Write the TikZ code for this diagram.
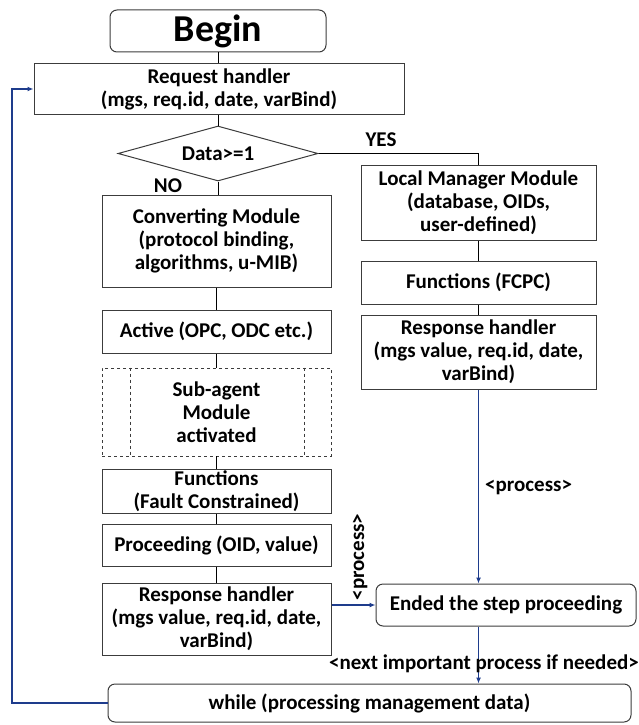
\documentclass[tikz,border=0pt]{standalone}
\usepackage{fontspec}
\setmainfont{Carlito}
\usetikzlibrary{shapes.geometric,arrows.meta,calc}
\definecolor{lnblue}{RGB}{30,60,140}
\definecolor{edge}{RGB}{60,60,60}
\begin{document}
\begin{tikzpicture}[x=1pt,y=-1pt,
  txt/.style={font=\fontsize{21}{23}\selectfont\bfseries},
  box/.style={txt,draw=edge,line width=1pt,align=center,inner sep=1pt,minimum width=229pt},
  rbox/.style={box,rounded corners=7pt},
  conn/.style={line width=1pt,black},
  bconn/.style={line width=1.2pt,lnblue},
  barr/.style={bconn,-{Latex[length=6pt,width=5pt]}},
  lbl/.style={txt,inner sep=0pt}]
\useasboundingbox (0,0) rectangle (638,725);
\node[rbox,minimum width=216pt,minimum height=42pt,font=\fontsize{38}{40}\selectfont\bfseries] (bg) at (218,31) {Begin};
\node[box,minimum width=370pt,minimum height=50pt] (rq) at (219,89) {Request handler\\(mgs, req.id, date, varBind)};
\node[txt,draw=edge,line width=1pt,shape=diamond,aspect=3.6,minimum width=200pt,minimum height=55pt,inner sep=0pt] (dc) at (218,153.5) {Data>=1};
\node[box,minimum height=92pt] (cv) at (216.5,241) {Converting Module\\(protocol binding,\\algorithms, u-MIB)};
\node[box,minimum height=43pt] (ac) at (216.5,331.5) {Active (OPC, ODC etc.)};
\node[box,dashed,draw=edge,line width=0.7pt,minimum height=88pt] (sa) at (216.5,412) {Sub-agent\\Module\\activated};
\node[box,minimum height=44pt] (fn) at (216.5,491) {Functions\\(Fault Constrained)};
\node[box,minimum height=42pt] (pr) at (216.5,545) {Proceeding (OID, value)};
\node[box,minimum height=72pt] (rl) at (216.5,619) {Response handler\\(mgs value, req.id, date,\\varBind)};
\node[box,minimum width=235pt,minimum height=75pt] (lm) at (478.5,202.5) {Local Manager Module\\(database, OIDs,\\user-defined)};
\node[box,minimum width=235pt,minimum height=43pt] (fc) at (478.5,282.5) {Functions (FCPC)};
\node[box,minimum width=235pt,minimum height=74pt] (rr) at (478.5,352) {Response handler\\(mgs value, req.id, date,\\varBind)};
\node[rbox,minimum width=260pt,minimum height=42pt] (en) at (506,605) {Ended the step proceeding};
\node[rbox,minimum width=523pt,minimum height=38pt] (wh) at (369.5,703) {while (processing management data)};
% dashed inner lines of sub-agent
\draw[dashed,draw=edge,line width=0.7pt] ($(sa.north west)+(29,0)$) -- ($(sa.south west)+(29,0)$);
\draw[dashed,draw=edge,line width=0.7pt] ($(sa.north east)+(-27,0)$) -- ($(sa.south east)+(-27,0)$);
% connectors
\draw[conn] (bg.south) -- (bg.south |- rq.north);
\draw[conn] (dc.north |- rq.south) -- (dc.north);
\draw[conn] (dc.south) -- (dc.south |- cv.north);
\draw[conn] (dc.east) -- (dc.east -| lm.north) -- (lm.north);
\draw[conn] (cv.south) -- (ac.north);
\draw[conn] (ac.south) -- (sa.north);
\draw[conn] (sa.south) -- (fn.north);
\draw[conn] (fn.south) -- (pr.north);
\draw[conn] (pr.south) -- (rl.north);
\draw[conn] (lm.south) -- (fc.north);
\draw[conn] (fc.south) -- (rr.north);
\draw[barr] (rr.south) -- (rr.south |- en.north);
\draw[barr] (rl.east |- en.west) -- (en.west);
\draw[barr] (rr.south |- en.south) -- (rr.south |- wh.north);
\coordinate (lp) at (12,703);
\draw[barr] (wh.west) -- (lp) |- (rq.west);
% labels
\node[lbl] (yes) at (381,140) {YES};
\node[lbl] (no) at (168,186) {NO};
\node[lbl,anchor=west] (p1) at (485,487) {<process>};
\node[lbl,rotate=90] (p2) at (360,557) {<process>};
\node[lbl] (nx) at (484,664) {<next important process if needed>};
\end{tikzpicture}
\end{document}
